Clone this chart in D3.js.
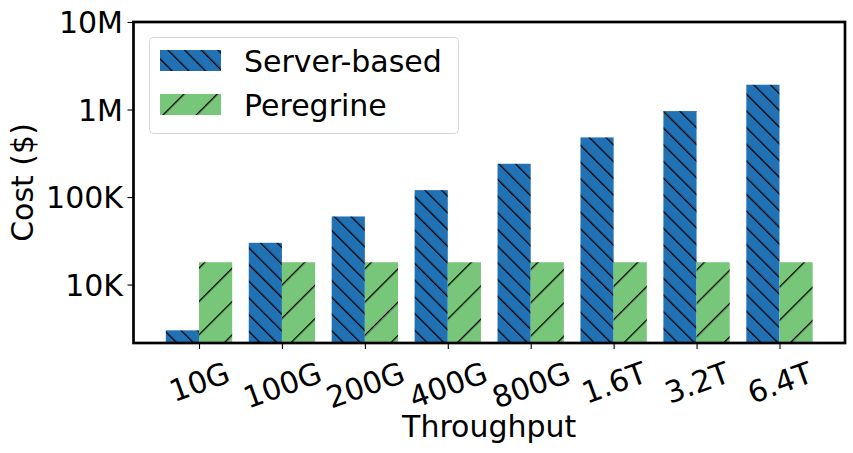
<!DOCTYPE html>
<html>
<head>
<meta charset="utf-8">
<script src="https://cdn.jsdelivr.net/npm/d3@7"></script>
<style>
  body { margin: 0; background: #fff; }
  svg { font-family: "DejaVu Sans", sans-serif; }
</style>
</head>
<body>
<div id="chart"></div>
<script>
// throughput categories and cost per setup
var categories = ["10G", "100G", "200G", "400G", "800G", "1.6T", "3.2T", "6.4T"];
var serverCost = [3000, 30000, 60000, 120000, 240000, 480000, 960000, 1920000];
var peregrineCost = [18000, 18000, 18000, 18000, 18000, 18000, 18000, 18000];
var seriesNames = ["Server-based", "Peregrine"];
var yTickValues = [1e4, 1e5, 1e6, 1e7];
var yTickLabels = ["10K", "100K", "1M", "10M"];

var W = 853, H = 453;
var plot = {left: 133.5, right: 845, top: 22, bottom: 343};
var blue = "#2171b5", green = "#78c679";

var svg = d3.select("#chart")
  .append("svg")
    .attr("width", W)
    .attr("height", H);

// hatch patterns, rotated stripes
var defs = svg.append("defs");
function hatch(id, color, gap, angle) {
  var p = defs.append("pattern")
      .attr("id", id)
      .attr("patternUnits", "userSpaceOnUse")
      .attr("width", gap)
      .attr("height", gap)
      .attr("patternTransform", "rotate(" + angle + ")");
  p.append("rect")
      .attr("width", gap).attr("height", gap)
      .attr("fill", color);
  p.append("rect")
      .attr("x", 0).attr("width", 1.3).attr("height", gap)
      .attr("fill", "black");
}
hatch("hatchBlue", blue, 16.7 / Math.SQRT2, -45);   // '\\'
hatch("hatchGreen", green, 33.3 / Math.SQRT2, 45);  // '/'

var x = d3.scaleLinear()
  .domain([-0.79, categories.length - 1 + 0.79])
  .range([plot.left, plot.right]);

var y = d3.scaleLog()
  .domain([2150, 1e7])
  .range([plot.bottom, plot.top]);

var barW = 0.4;

// Server-based bars
svg.selectAll("rect.server")
  .data(serverCost)
  .enter()
  .append("rect")
    .attr("class", "server")
    .attr("x", function(d, i) { return x(i - barW); })
    .attr("width", function(d, i) { return x(i) - x(i - barW); })
    .attr("y", function(d) { return y(d); })
    .attr("height", function(d) { return plot.bottom - y(d); })
    .attr("fill", "url(#hatchBlue)");

// Peregrine bars
svg.selectAll("rect.peregrine")
  .data(peregrineCost)
  .enter()
  .append("rect")
    .attr("class", "peregrine")
    .attr("x", function(d, i) { return x(i); })
    .attr("width", function(d, i) { return x(i + barW) - x(i); })
    .attr("y", function(d) { return y(d); })
    .attr("height", function(d) { return plot.bottom - y(d); })
    .attr("fill", "url(#hatchGreen)");

// Y axis
var yAxis = svg.append("g")
  .attr("transform", "translate(" + plot.left + ",0)")
  .call(d3.axisLeft(y)
    .tickValues(yTickValues)
    .tickFormat(function(d, i) { return yTickLabels[i]; })
    .tickSize(6)
    .tickPadding(4.5));
yAxis.select(".domain").remove();
yAxis.selectAll("line").attr("stroke", "black").attr("stroke-width", 1.1);
yAxis.selectAll("text")
  .attr("font-size", 30)
  .attr("font-family", "DejaVu Sans")
  .attr("fill", "black")
  .attr("dy", "0.36em");

// X axis
var xAxis = svg.append("g")
  .attr("transform", "translate(0," + plot.bottom + ")")
  .call(d3.axisBottom(x)
    .tickValues(d3.range(categories.length))
    .tickFormat(function(d) { return categories[d]; })
    .tickSize(6));
xAxis.select(".domain").remove();
xAxis.selectAll("line").attr("stroke", "black").attr("stroke-width", 1.1);
var rot = 20 * Math.PI / 180;
xAxis.selectAll("text")
  .attr("font-size", 30)
  .attr("font-family", "DejaVu Sans")
  .attr("fill", "black")
  .attr("y", 0)
  .attr("dy", null)
  .attr("text-anchor", "middle")
  .attr("dominant-baseline", "central")
  .attr("transform", function() {
    var w = this.getComputedTextLength();
    var cy = (355 - plot.bottom) + (w * Math.sin(rot) + 35 * Math.cos(rot)) / 2;
    return "translate(0," + cy + ") rotate(-20)";
  });

// frame
svg.append("rect")
  .attr("x", plot.left)
  .attr("y", plot.top)
  .attr("width", plot.right - plot.left)
  .attr("height", plot.bottom - plot.top)
  .attr("fill", "none")
  .attr("stroke", "black")
  .attr("stroke-width", 2.7);

// axis labels
svg.append("text")
  .attr("x", (plot.left + plot.right) / 2)
  .attr("y", 437)
  .attr("text-anchor", "middle")
  .attr("font-size", 30)
  .text("Throughput");

svg.append("text")
  .attr("transform", "translate(33," + (plot.top + plot.bottom) / 2 + ") rotate(-90)")
  .attr("text-anchor", "middle")
  .attr("font-size", 30)
  .text("Cost ($)");

// legend
var legend = svg.append("g");
legend.append("rect")
  .attr("x", 149.5).attr("y", 37.5)
  .attr("width", 309).attr("height", 96)
  .attr("rx", 4)
  .attr("fill", "white")
  .attr("fill-opacity", 0.8)
  .attr("stroke", "#d6d6d6")
  .attr("stroke-width", 1);

var legendFills = ["url(#hatchBlue)", "url(#hatchGreen)"];
var legendRows = legend.selectAll("g.row")
  .data(seriesNames)
  .enter()
  .append("g")
    .attr("class", "row")
    .attr("transform", function(d, i) { return "translate(0," + (i * 44) + ")"; });
legendRows.append("rect")
  .attr("x", 160).attr("y", 50)
  .attr("width", 61).attr("height", 21)
  .attr("fill", function(d, i) { return legendFills[i]; });
legendRows.append("text")
  .attr("x", 244).attr("y", 71.5)
  .attr("font-size", 30)
  .text(function(d) { return d; });
</script>
</body>
</html>
